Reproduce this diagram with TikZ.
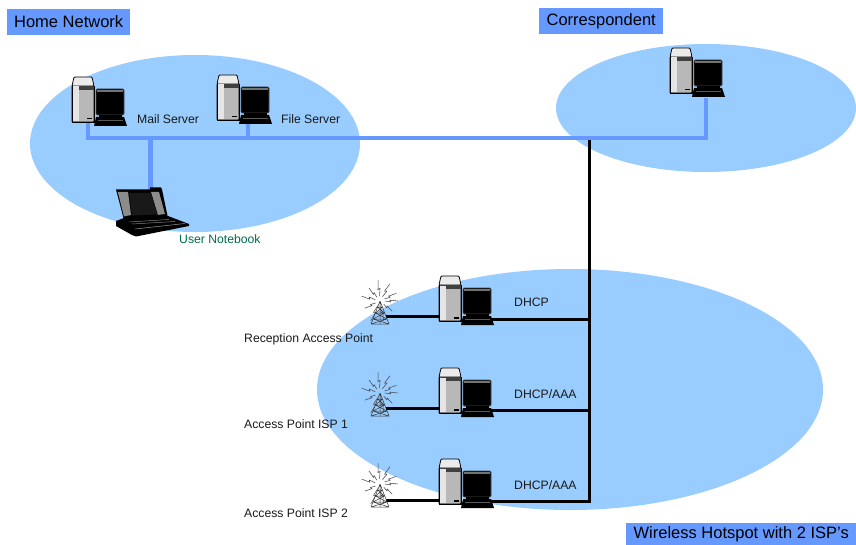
\documentclass[tikz,border=0pt]{standalone}
\usepackage{fontspec}
\setmainfont{Liberation Sans}
\definecolor{cloud}{HTML}{99CCFF}
\definecolor{wire}{HTML}{6699FF}
\definecolor{notegreen}{HTML}{006B4F}
\tikzset{
  x=1pt,y=-1pt,
  zone/.style={fill=cloud,draw=none},
  bluewire/.style={draw=wire,line width=4.5pt},
  blackwire/.style={draw=black,line width=3pt},
  title/.style={fill=wire,text=black,inner sep=0pt,font=\fontsize{16.5}{18}\selectfont,anchor=west,minimum height=26pt,align=center},
  lab/.style={font=\fontsize{12.2}{14}\selectfont,anchor=west,inner sep=0pt,text=black!90},
  pics/computer/.style={code={
    % tower
    \draw[fill=black!28,line width=.8pt,rounded corners=.8pt] (1,10)--(1,46)--(23,46)--(23,10)--cycle;
    \draw[fill=white!92!black,line width=.8pt,rounded corners=1pt] (1,10)--(3,1)--(21,1)--(23,10)--cycle;
    \fill[black!75] (3,10)--(23,10)--(23,14)--(3,14)--cycle;
    \fill[black!10] (1.5,10.5) rectangle (8,45);
    \fill[black] (16,42) rectangle (21,43.5);
    \draw[line width=.8pt] (1,10)--(1,46)--(23,46)--(23,10);
    % monitor
    \draw[fill=black,draw=black!70,line width=.8pt,rounded corners=1.2pt] (25,13) rectangle (53,39);
    \fill[black!55] (26,14) rectangle (52,16);
    % keyboard
    \fill[black] (28,39) rectangle (51,41);
    \fill[black] (25,41)--(53,41)--(56,50)--(23,50)--cycle;
    \fill[black!65] (27,44) rectangle (52,44.7);
  }},
  pics/antenna/.style={code={
    % rays, centred on the mast head
    \foreach \a/\r in {0/18,40/16,80/20,115/22,155/17,195/19,230/17,265/21,300/20,335/18}{
      \draw[black!70,line width=.55pt] (\a:5)--(\a+5:{\r*.6})--(\a-5:{\r*.55})--(\a:\r);
    }
    % mast
    \draw[black!80,line width=.5pt] (0,0)--(-9,23) (0,0)--(9,23) (0,0)--(0,23);
    \draw[black!80,line width=.5pt] (-2.5,6)--(2.5,6) (-2.5,6)--(4.5,12) (2.5,6)--(-4.5,12)
      (-4.5,12)--(4.5,12) (-4.5,12)--(7,18) (4.5,12)--(-7,18) (-7,18)--(7,18)
      (-7,18)--(9,23) (7,18)--(-9,23) (-9,23)--(9,23);
  }},
  pics/notebook/.style={code={
    % lid
    \fill[black] (1,2.5)--(35,2.5)--(35,.5)--(46,.5)--(47,2.5)--(53,31)--(9,33)--cycle;
    \fill[black!45] (2.8,5)--(13,5)--(16,28)--(9,29.5)--cycle;
    \fill[black!45] (36,5)--(44,5)--(50,27)--(43,28)--cycle;
    \fill[black!90] (14,6)--(36,6)--(42,27.5)--(17,28.5)--cycle;
    % base
    \fill[black] (1,34)--(9,31)--(53,29)--(74,37)--(74,39)--(21,49.5)--(17,48)--(1,39)--cycle;
    \draw[black!50,line width=.5pt] (14,35)--(54,32.5) (17,37)--(60,34.5);
    \draw[white!60!black,line width=.5pt] (20,42)--(70,36.5);
  }},
}
\begin{document}
\begin{tikzpicture}
\useasboundingbox (0,0) rectangle (856,545);
\clip (0,0) rectangle (856,545);

% zones
\fill[zone] (195,143.5) ellipse [x radius=165,y radius=88.5];
\fill[zone] (706,108) ellipse [x radius=150,y radius=64];
\fill[zone] (570,389.5) ellipse [x radius=253,y radius=120.5];

% anchors
\coordinate (mail) at (71,76);
\coordinate (file) at (216,74);
\coordinate (corr) at (669,47);
\coordinate (hostA) at (438,275);
\coordinate (hostB) at (438,367);
\coordinate (hostC) at (438,458);
\coordinate (antA) at (380,301);
\coordinate (antB) at (380,393);
\coordinate (antC) at (380,484);
\coordinate (nb) at (115,187);

\coordinate (mailS) at (88,123);
\coordinate (fileS) at (248,124);
\coordinate (corrS) at (706,98);
\coordinate (nbS) at (150.5,190);
\coordinate (tapMail) at (88,138);
\coordinate (tapFile) at (248,138);
\coordinate (tapNb) at (150.5,138);
\coordinate (tapCorr) at (706,138);
\coordinate (busTop) at (589,140);
\coordinate (busBot) at (589,502.5);
\coordinate (busA) at (589,319);
\coordinate (busB) at (589,410);
\coordinate (busC) at (589,501);
\coordinate (hostAe) at (490,319);
\coordinate (hostBe) at (490,410);
\coordinate (hostCe) at (490,501);
\coordinate (antAe) at (386,316);
\coordinate (antBe) at (386,408);
\coordinate (antCe) at (386,500);
\coordinate (hostAw) at (440,316);
\coordinate (hostBw) at (440,408);
\coordinate (hostCw) at (440,500);

% blue network
\draw[bluewire,line cap=butt,line join=miter] (mailS)--(tapMail)--(tapCorr)--(corrS);
\draw[bluewire] (fileS)--(tapFile);
\draw[bluewire] (tapNb)--(nbS);

% black network
\draw[blackwire] (busTop)--(busBot);
\draw[blackwire] (hostAe)--(busA);
\draw[blackwire] (hostBe)--(busB);
\draw[blackwire] (hostCe)--(busC);
\draw[blackwire] (antAe)--(hostAw);
\draw[blackwire] (antBe)--(hostBw);
\draw[blackwire] (antCe)--(hostCw);

% devices
\pic at (mail) {computer};
\pic at (file) {computer};
\pic at (corr) {computer};
\pic at (hostA) {computer};
\pic at (hostB) {computer};
\pic at (hostC) {computer};
\pic at (antA) {antenna};
\pic at (antB) {antenna};
\pic at (antC) {antenna};
\pic at (nb) {notebook};

% titles
\node[title,minimum width=123pt] (tHome) at (7,22) {Home Network};
\node[title,minimum width=124pt] (tCorr) at (539,21.5) {Correspondent};
\node[title,minimum width=230pt,minimum height=23pt] (tWifi) at (626,534.5) {Wireless Hotspot with 2 ISP's};

% labels
\node[lab] (lMail) at (137,119) {Mail Server};
\node[lab] (lFile) at (281,119) {File Server};
\node[lab,text=notegreen] (lNb) at (179,239) {User Notebook};
\node[lab] (lD1) at (514,302) {DHCP};
\node[lab] (lD2) at (514,394) {DHCP/AAA};
\node[lab] (lD3) at (514,485) {DHCP/AAA};
\node[lab] (lA1) at (244,339) {Reception Access Point};
\node[lab] (lA2) at (244,424) {Access Point ISP 1};
\node[lab] (lA3) at (244,513) {Access Point ISP 2};
\end{tikzpicture}
\end{document}
